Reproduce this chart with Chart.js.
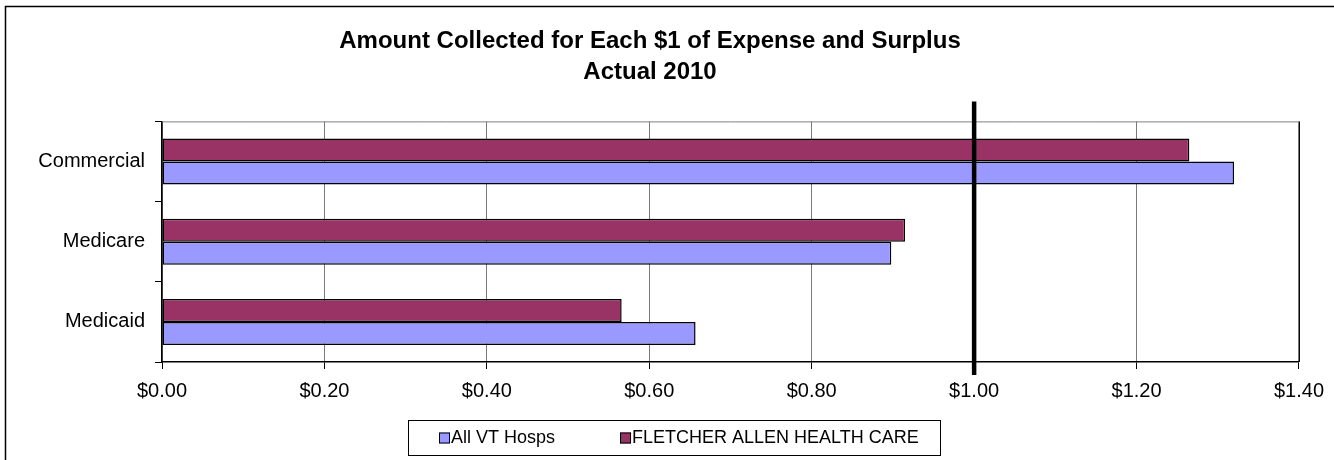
<!DOCTYPE html>
<html>
<head>
<meta charset="utf-8">
<script src="https://cdn.jsdelivr.net/npm/chart.js@4.4.0/dist/chart.umd.min.js"></script>
<style>
  html, body { margin: 0; padding: 0; background: #fff; }
  canvas { display: block; }
</style>
</head>
<body>
<canvas id="chart" width="1334" height="460"></canvas>
<script>
// ===== data =====
const categories = ["Commercial", "Medicare", "Medicaid"];
const fahcValues = [1.265, 0.915, 0.566];
const allVtValues = [1.32, 0.898, 0.657];
const xTicks = [0, 0.2, 0.4, 0.6, 0.8, 1.0, 1.2, 1.4];
const refValue = 1.0;
const titleLines = ["Amount Collected for Each $1 of Expense and Surplus", "Actual 2010"];
const legendOrder = [1, 0]; // All VT Hosps first, then FAHC

const FONT = "Arial, 'Liberation Sans', sans-serif";

// outer frame + plot border
const framePlugin = {
  id: "frame",
  beforeDraw(chart){
    const ctx = chart.ctx;
    ctx.save();
    ctx.strokeStyle = "#000";
    ctx.lineWidth = 1.5;
    ctx.strokeRect(5.5, 6.5, 3000, 3000);
    ctx.restore();
  },
  beforeDatasetsDraw(chart){
    const { ctx, chartArea: a } = chart;
    ctx.save();
    ctx.strokeStyle = "#808080";
    ctx.lineWidth = 1;
    ctx.beginPath();
    ctx.moveTo(a.left, a.top + 0.5);
    ctx.lineTo(a.right, a.top + 0.5);
    ctx.stroke();
    ctx.strokeStyle = "#000";
    ctx.beginPath();
    ctx.moveTo(a.right + 0.5, a.top);
    ctx.lineTo(a.right + 0.5, a.bottom);
    ctx.stroke();
    ctx.restore();
  }
};

// thick line at $1.00
const refLinePlugin = {
  id: "refLine",
  afterDatasetsDraw(chart){
    const { ctx, chartArea: a, scales } = chart;
    const x = scales.x.getPixelForValue(refValue);
    ctx.save();
    ctx.strokeStyle = "#000";
    ctx.lineWidth = 4.5;
    ctx.beginPath();
    ctx.moveTo(x, a.top - 20);
    ctx.lineTo(x, a.bottom + 13);
    ctx.stroke();
    ctx.restore();
  }
};

// boxed legend under the axis
const boxLegendPlugin = {
  id: "boxLegend",
  afterDraw(chart){
    const ctx = chart.ctx;
    const box = { left: 408, top: 420, width: 532, height: 35 };
    ctx.save();
    ctx.strokeStyle = "#000";
    ctx.lineWidth = 1;
    ctx.strokeRect(box.left + 0.5, box.top + 0.5, box.width, box.height);
    ctx.font = "18px " + FONT;
    ctx.textBaseline = "middle";
    ctx.textAlign = "left";
    const cy = box.top + box.height / 2 + 0.5;
    let x = box.left + 31;
    legendOrder.forEach(i => {
      const ds = chart.data.datasets[i];
      ctx.fillStyle = ds.backgroundColor;
      ctx.fillRect(x, cy - 5.5, 11, 11);
      ctx.strokeStyle = "#000";
      ctx.lineWidth = 1;
      ctx.strokeRect(x + 0.5, cy - 5.5 + 0.5, 10, 10);
      ctx.fillStyle = "#000";
      ctx.fillText(ds.label, x + 12, cy);
      x += 12 + ctx.measureText(ds.label).width + 65;
    });
    ctx.restore();
  }
};

new Chart(document.getElementById("chart"), {
  type: "bar",
  data: {
    labels: categories,
    datasets: [
      {
        label: "FLETCHER ALLEN HEALTH CARE",
        data: fahcValues,
        backgroundColor: "#993366",
        borderColor: "#000",
        borderWidth: 1.5,
        borderSkipped: false,
        categoryPercentage: 0.573,
        barPercentage: 1.0
      },
      {
        label: "All VT Hosps",
        data: allVtValues,
        backgroundColor: "#9999FF",
        borderColor: "#000",
        borderWidth: 1.5,
        borderSkipped: false,
        categoryPercentage: 0.573,
        barPercentage: 1.0
      }
    ]
  },
  options: {
    indexAxis: "y",
    responsive: false,
    animation: false,
    devicePixelRatio: 1,
    layout: { padding: { left: 0, right: 34, top: 0, bottom: 47 } },
    scales: {
      x: {
        min: 0, max: 1.4,
        afterBuildTicks: scale => { scale.ticks = xTicks.map(v => ({ value: v })); },
        ticks: {
          color: "#000",
          font: { family: FONT, size: 20 },
          padding: 10,
          maxRotation: 0,
          callback: v => "$" + Number(v).toFixed(2)
        },
        grid: { color: "#7a7a7a", lineWidth: 1, tickLength: 7, tickColor: "#000" },
        border: { color: "#000", width: 1.5 }
      },
      y: {
        afterFit: scale => { scale.width = 162; },
        ticks: { color: "#000", font: { family: FONT, size: 20 }, padding: 10 },
        grid: { drawOnChartArea: false, offset: true, tickLength: 7, tickColor: "#000" },
        border: { color: "#000", width: 1.5 }
      }
    },
    plugins: {
      legend: { display: false },
      tooltip: { enabled: false },
      title: {
        display: true,
        text: titleLines,
        color: "#000",
        font: { family: FONT, size: 24, weight: "bold", lineHeight: 1.3 },
        padding: { top: 26, bottom: 33 }
      }
    }
  },
  plugins: [framePlugin, refLinePlugin, boxLegendPlugin]
});
</script>
</body>
</html>
